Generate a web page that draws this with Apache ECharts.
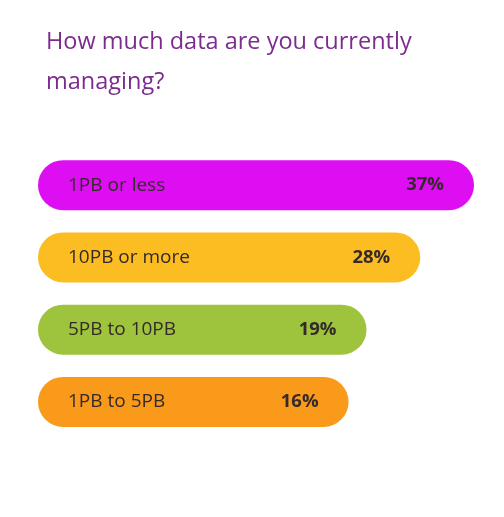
<!DOCTYPE html>
<html>
<head>
<meta charset="utf-8">
<script src="https://cdn.jsdelivr.net/npm/echarts@6/dist/echarts.min.js"></script>
<style>
  html, body { margin: 0; padding: 0; background: #fff; }
  #chart { width: 504px; height: 517px; }
</style>
</head>
<body>
<div id="chart"></div>
<script>
var categories = ['1PB or less', '10PB or more', '5PB to 10PB', '1PB to 5PB'];
var shares = [37, 28, 19, 16];
var barColors = ['#dd0ff2', '#fbbd22', '#9dc43c', '#f99a1b'];

// the infographic bars are not drawn from zero: every pill gets a fixed lead-in
var LEAD = 36;

var dom = document.getElementById('chart');
var myChart = echarts.init(dom, null, { renderer: 'canvas' });

var font = '"Open Sans", "Noto Sans", sans-serif';

var option = {
    animation: false,
    title: {
        text: 'How much data are you currently\nmanaging?',
        left: 46,
        top: 22,
        padding: 0,
        textStyle: {
            fontFamily: font,
            fontSize: 23.5,
            fontWeight: 'normal',
            color: '#7b2c8e',
            lineHeight: 40
        }
    },
    grid: { left: 38, right: 30, top: 149, bottom: 79 },
    xAxis: {
        type: 'value',
        min: 0,
        max: LEAD + 37,
        show: false
    },
    yAxis: {
        type: 'category',
        data: categories,
        inverse: true,
        show: false
    },
    series: [{
        type: 'bar',
        stack: 'pill',
        barWidth: 50,
        data: categories.map(function (c, i) {
            return { value: LEAD, itemStyle: { color: barColors[i] } };
        }),
        itemStyle: { borderRadius: [25, 0, 0, 25] },
        label: {
            show: true,
            position: 'insideLeft',
            distance: 30,
            formatter: function (p) { return categories[p.dataIndex]; },
            fontFamily: font,
            fontSize: 19,
            color: '#352a2a'
        }
    }, {
        type: 'bar',
        stack: 'pill',
        barWidth: 50,
        data: shares.map(function (v, i) {
            return { value: v, itemStyle: { color: barColors[i] } };
        }),
        itemStyle: { borderRadius: [0, 25, 25, 0] },
        label: {
            show: true,
            position: 'insideRight',
            distance: 30,
            formatter: '{c}%',
            fontFamily: font,
            fontSize: 18.5,
            fontWeight: 'bold',
            color: '#352a2a'
        }
    }]
};

option && myChart.setOption(option);
</script>
</body>
</html>
